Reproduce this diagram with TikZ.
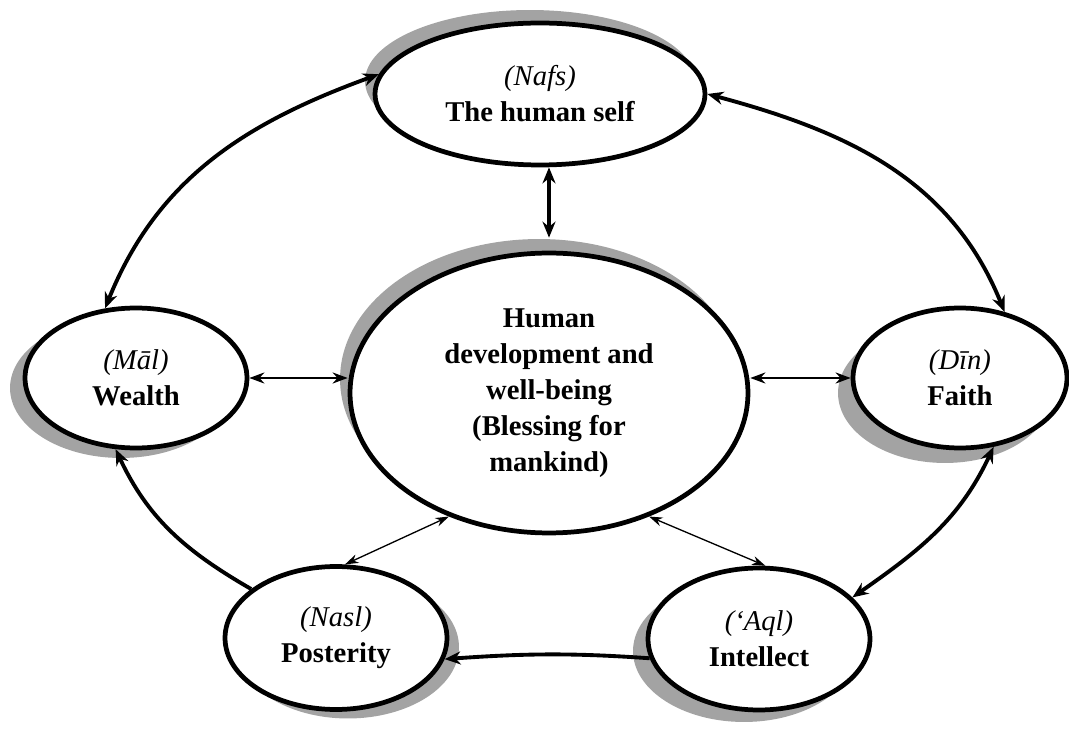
\documentclass[tikz,border=0pt]{standalone}
\usepackage{fontspec}
\setmainfont{Liberation Serif}
\usetikzlibrary{shapes.geometric,arrows.meta,shadows}
\begin{document}
\begin{tikzpicture}[x=0.02cm,y=-0.02cm,
  goal/.style={ellipse, draw=black, line width=2.7pt, fill=white, inner sep=0pt,
    align=center, font=\fontsize{16.3}{20.5}\selectfont\bfseries},
  dshadow/.style 2 args={drop shadow={shadow xshift=#1, shadow yshift=#2,
    fill=black!36, opacity=1, draw=none}},
  link/.style={line width=2.2pt, {Stealth[length=0.32cm,width=0.26cm]}-{Stealth[length=0.32cm,width=0.26cm]}},
  onelink/.style={line width=2.2pt, -{Stealth[length=0.32cm,width=0.26cm]}},
  midlink/.style={line width=1.4pt, {Stealth[length=0.3cm,width=0.22cm]}-{Stealth[length=0.3cm,width=0.22cm]}},
  thinlink/.style={line width=0.75pt, {Stealth[length=0.27cm,width=0.18cm]}-{Stealth[length=0.27cm,width=0.18cm]}}]
\useasboundingbox (0,0) rectangle (1069,729);

% the six circles of well-being
\node[goal, dshadow={-0.2cm}{0.26cm}, minimum width=6.6cm, minimum height=2.84cm]
  (nafs) at (540,94) {{\mdseries\itshape (Nafs)}\\The human self};
\node[goal, dshadow={-0.2cm}{0.28cm}, minimum width=7.96cm, minimum height=5.6cm]
  (core) at (549,393) {Human\\development and\\well-being\\(Blessing for\\mankind)};
\node[goal, dshadow={-0.3cm}{-0.2cm}, minimum width=4.44cm, minimum height=2.8cm]
  (mal) at (136,378) {{\mdseries\itshape (Māl)}\\Wealth};
\node[goal, dshadow={-0.3cm}{-0.3cm}, minimum width=4.28cm, minimum height=2.8cm]
  (din) at (960,378) {{\mdseries\itshape (Dīn)}\\Faith};
\node[goal, dshadow={0.24cm}{-0.18cm}, minimum width=4.44cm, minimum height=2.86cm]
  (nasl) at (336,638) {{\mdseries\itshape (Nasl)}\\Posterity};
\node[goal, dshadow={-0.3cm}{-0.24cm}, minimum width=4.44cm, minimum height=2.84cm]
  (aql) at (759,639) {{\mdseries\itshape (‘Aql)}\\Intellect};

% links to the centre
\draw[link] (core.north |- nafs.south) -- ([yshift=0.26cm]core.north);
\draw[midlink] (mal.east) -- (mal.east -| core.west);
\draw[midlink] (din.west -| core.east) -- (din.west);
\draw[thinlink] (core.231) -- (nasl.83);
\draw[thinlink] (core.309) -- (aql.85);

% ring around the centre
\draw[link] (nafs.173) to[out=200, in=68] (mal.114);
\draw[link] (nafs.0) to[out=-15, in=112] (din.56);
\draw[link] (din.296) to[out=245, in=35] (aql.24);
\draw[onelink] (aql.190) to[out=176, in=4] (nasl.349);
\draw[onelink] (nasl.150) to[out=150, in=-65] (mal.254);
\end{tikzpicture}
\end{document}
